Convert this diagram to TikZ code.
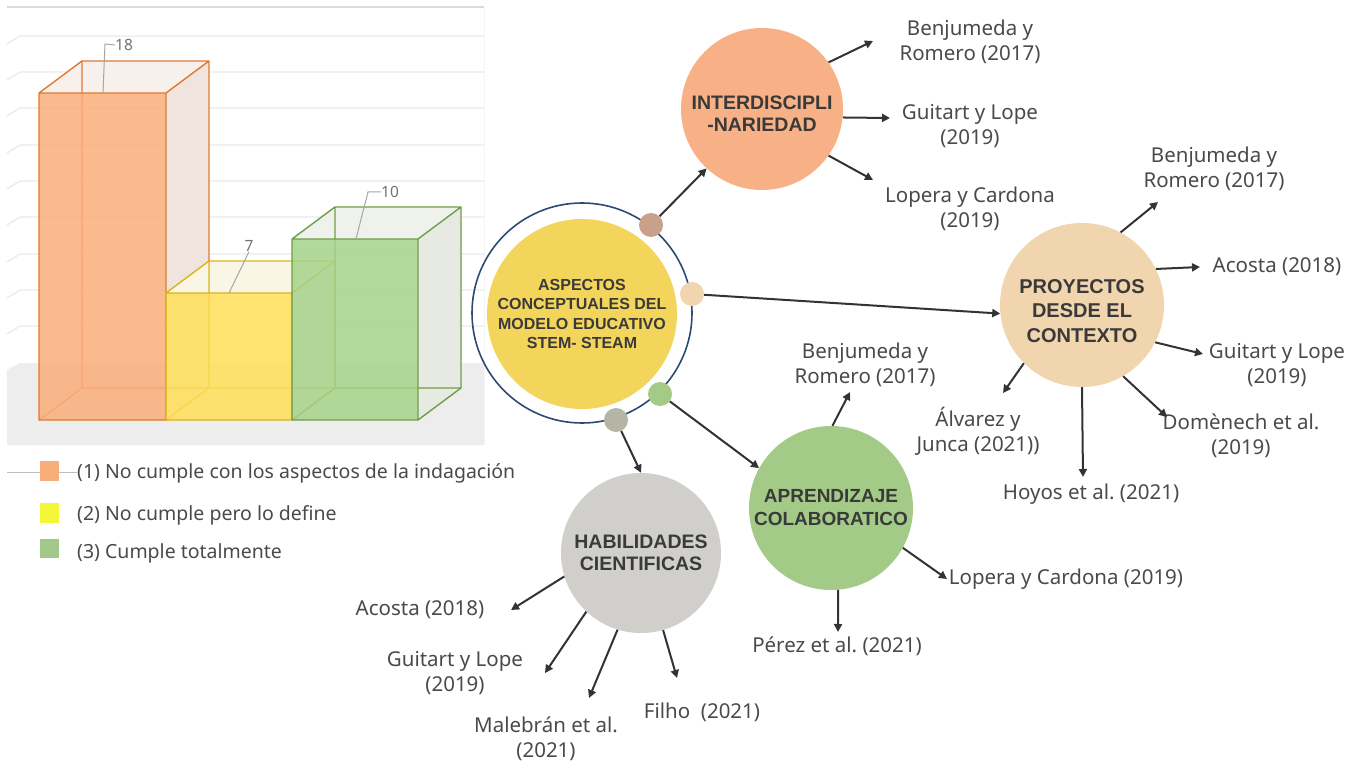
\documentclass[tikz,border=0pt]{standalone}
\usepackage{fontspec}
\setmainfont{Noto Sans}
\newfontfamily\titlefont{Liberation Sans}
\usetikzlibrary{arrows.meta}
\frenchspacing

\definecolor{txtgray}{HTML}{4A4A4A}
\definecolor{titlegray}{HTML}{3A3A3A}
\definecolor{arrowgray}{HTML}{333333}
\definecolor{ringblue}{HTML}{2C4B73}
\definecolor{cOrange}{HTML}{F8B186}
\definecolor{cPeach}{HTML}{F0D5AF}
\definecolor{cGreen}{HTML}{A3CA86}
\definecolor{cGray}{HTML}{D0CFCB}
\definecolor{cYellow}{HTML}{F4D55B}
\definecolor{dotBrown}{HTML}{C9A08A}
\definecolor{dotGray}{HTML}{B5B5A5}
\definecolor{gridcol}{HTML}{EBEBEB}
\definecolor{floorcol}{HTML}{EDEDED}
\definecolor{barOrange}{HTML}{FBAE7A}
\definecolor{edgeOrange}{HTML}{E0782F}
\definecolor{sideOrange}{HTML}{EFE4DE}
\definecolor{topOrange}{HTML}{F7F0EC}
\definecolor{barYellow}{HTML}{FFE05A}
\definecolor{edgeYellow}{HTML}{D9B41C}
\definecolor{sideYellow}{HTML}{F3EFE2}
\definecolor{topYellow}{HTML}{FAF6E6}
\definecolor{barGreen}{HTML}{A6D28A}
\definecolor{edgeGreen}{HTML}{6E9E45}
\definecolor{sideGreen}{HTML}{E7EAE3}
\definecolor{topGreen}{HTML}{EFF2EC}
\definecolor{legOrange}{HTML}{F9AD7A}
\definecolor{legYellow}{HTML}{F5F53A}
\definecolor{legGreen}{HTML}{A3C98A}

% 3D bar: left x, right x, top y, front fill, edge colour, side fill, top fill
\newcommand\cuboid[7]{%
  \fill[#6] (#2,#3) -- ({#2+43},{#3-32}) -- ({#2+43},388) -- (#2,420) -- cycle;
  \fill[#7] (#1,#3) -- ({#1+43},{#3-32}) -- ({#2+43},{#3-32}) -- (#2,#3) -- cycle;
  \draw[#5, line width=1.2pt, line join=round]
    ({#1+43},{#3-32}) -- ({#1+43},388) -- ({#2+43},388)
    (#1,420) -- ({#1+43},388);
  \fill[#4, fill opacity=0.85] (#1,#3) rectangle (#2,420);
  \draw[#5, line width=1.4pt, line join=round]
    (#1,#3) rectangle (#2,420)
    (#1,#3) -- ({#1+43},{#3-32}) -- ({#2+43},{#3-32}) -- (#2,#3)
    ({#2+43},{#3-32}) -- ({#2+43},388) -- (#2,420);
}

\begin{document}
\begin{tikzpicture}[x=1pt,y=-1pt,
  cite/.style={text=txtgray, font=\fontsize{20.5}{25}\selectfont, align=center, inner sep=0pt},
  topic/.style={circle, inner sep=0pt, minimum size=#1, text=titlegray, align=center},
  ttext/.style={text=titlegray, align=center, inner sep=0pt},
  tfont/.style 2 args={font=\titlefont\bfseries\fontsize{#1}{#2}\selectfont},
  dot/.style={circle, inner sep=0pt, minimum size=24pt, fill=#1},
  link/.style={-{Triangle[length=8pt,width=8pt]}, line width=2pt, draw=arrowgray},
  legtext/.style={text=txtgray, font=\fontsize{19.5}{22}\selectfont, anchor=west, inner sep=0pt},
  barlabel/.style={text=black!55, font=\fontsize{15.5}{18}\selectfont, inner sep=0pt},
  leader/.style={draw=black!35, line width=1pt}]

\useasboundingbox (0,0) rectangle (1360,762);
\fill[white] (0,0) rectangle (1360,762);

% ---------- bar chart ----------
\fill[floorcol] (7,370) -- (20,363) -- (484,363) -- (484,445) -- (7,445) -- cycle;
\draw[black!14, line width=1.2pt] (7,7) -- (484,7);
\foreach \gy in {36,72,108,145,181,217,254,290,326}
  \draw[gridcol, line width=1.3pt] (7,{\gy+8}) -- (20,\gy) -- (484,\gy);
\draw[black!4, line width=1pt] (484,7) -- (484,445);

\cuboid{39}{166}{93}{barOrange}{edgeOrange}{sideOrange}{topOrange}
\cuboid{166}{292}{293}{barYellow}{edgeYellow}{sideYellow}{topYellow}
\cuboid{292}{418}{239}{barGreen}{edgeGreen}{sideGreen}{topGreen}

\node[barlabel, anchor=west] (n18) at (115,45) {18};
\node[barlabel] (n7) at (249,246) {7};
\node[barlabel, anchor=west] (n10) at (381,192) {10};
\draw[leader] (103,93) -- (105,44) -- (n18.west);
\draw[leader] (229,293) -- (n7.south);
\draw[leader] (356,239) -- (368,192) -- (n10.west);

% legend
\draw[black!25, line width=1pt] (7,472) -- (77,472);
\fill[legOrange] (40,461) rectangle (59,481);
\fill[legYellow] (40,503) rectangle (59,523);
\fill[legGreen]  (40,539) rectangle (59,558);
\node[legtext] (l1) at (77,473) {(1) No cumple con los aspectos de la indagación};
\node[legtext] (l2) at (77,515) {(2) No cumple pero lo define};
\node[legtext] (l3) at (77,553) {(3) Cumple totalmente};

% ---------- central node ----------
\node[circle, draw=ringblue, line width=1.6pt, minimum size=220pt, inner sep=0pt] (ring) at (582,313) {};
\node[topic=190pt, fill=cYellow, tfont={16}{19.5}] (core) at (582,314)
  {ASPECTOS\\CONCEPTUALES DEL\\MODELO EDUCATIVO\\STEM- STEAM};

\node[dot=dotBrown] (dA) at (651,225) {};
\node[dot=cPeach]   (dB) at (692,294) {};
\node[dot=cGreen]   (dC) at (660,394) {};
\node[dot=dotGray]  (dD) at (616,420) {};

% ---------- topic circles ----------
\node[topic=162pt, fill=cOrange] (inter) at (762,109) {};
\node[ttext, tfont={19.5}{22}] (interT) at ([yshift=-5pt]inter.center) {INTERDISCIPLI\\-NARIEDAD};
\node[topic=164pt, fill=cPeach] (proy) at (1082,305) {};
\node[ttext, tfont={20}{24.5}] (proyT) at ([yshift=-6pt]proy.center) {PROYECTOS\\DESDE EL\\CONTEXTO};
\node[topic=164pt, fill=cGreen, tfont={19}{23}] (apr) at (831,508) {APRENDIZAJE\\COLABORATICO};
\node[topic=160pt, fill=cGray, tfont={19.5}{22}] (hab) at (641,553) {HABILIDADES\\CIENTIFICAS};

\draw[link] (dA) -- (inter.227);
\draw[link] (dB) -- (proy.186);
\draw[link] (dC) -- (apr.151);
\draw[link] (dD) -- (hab.north);

% ---------- citations: interdisciplinariedad ----------
\node[cite] (i1) at (970,42) {Benjumeda y\\Romero (2017)};
\node[cite] (i2) at (970,126) {Guitart y Lope\\(2019)};
\node[cite] (i3) at (970,209) {Lopera y Cardona\\(2019)};
\coordinate (ti1) at (873,41);
\coordinate (ti2) at (890,118);
\coordinate (ti3) at (873,180);
\draw[link] (inter.35) -- (ti1);
\draw[link] (inter.-6) -- (ti2);
\draw[link] (inter.-35) -- (ti3);

% ---------- citations: proyectos ----------
\node[cite] (p1) at (1214,169) {Benjumeda y\\Romero (2017)};
\node[cite] (p2) at (1277,267) {Acosta (2018)};
\node[cite] (p3) at (1277,365) {Guitart y Lope\\(2019)};
\node[cite] (p4) at (1241,436) {Domènech et al.\\(2019)};
\node[cite] (p5) at (1091,494) {Hoyos et al. (2021)};
\node[cite] (p6) at (978,431) {Álvarez y\\Junca (2021))};
\coordinate (tp1) at (1158,202);
\coordinate (tp2) at (1200,267);
\coordinate (tp3) at (1203,354);
\coordinate (tp4) at (1167,417);
\coordinate (tp5) at (1083,477);
\coordinate (tp6) at (1003,393);
\draw[link] (proy.62) -- (tp1);
\draw[link] (proy.26) -- (tp2);
\draw[link] (proy.-27) -- (tp3);
\draw[link] (proy.-60) -- (tp4);
\draw[link] (proy.-90) -- (tp5);
\draw[link] (proy.-135) -- (tp6);

% ---------- citations: aprendizaje ----------
\node[cite] (a1) at (865,365) {Benjumeda y\\Romero (2017)};
\node[cite] (a2) at (1066,579) {Lopera y Cardona (2019)};
\node[cite] (a3) at (837,646) {Pérez et al. (2021)};
\coordinate (ta1) at (850,392);
\coordinate (ta2) at (947,579);
\coordinate (ta3) at (838,632);
\draw[link] (apr.89) -- (ta1);
\draw[link] (apr.-29) -- (ta2);
\draw[link] (apr.-85) -- (ta3);

% ---------- citations: habilidades ----------
\node[cite] (h1) at (420,610) {Acosta (2018)};
\node[cite] (h2) at (455,673) {Guitart y Lope\\(2019)};
\node[cite] (h3) at (546,739) {Malebrán et al.\\(2021)};
\node[cite] (h4) at (702,712) {Filho~ (2021)};
\coordinate (th1) at (511,610);
\coordinate (th2) at (545,673);
\coordinate (th3) at (589,698);
\coordinate (th4) at (677,678);
\draw[link] (hab.197) -- (th1);
\draw[link] (hab.227) -- (th2);
\draw[link] (hab.253) -- (th3);
\draw[link] (hab.286) -- (th4);

\end{tikzpicture}
\end{document}
